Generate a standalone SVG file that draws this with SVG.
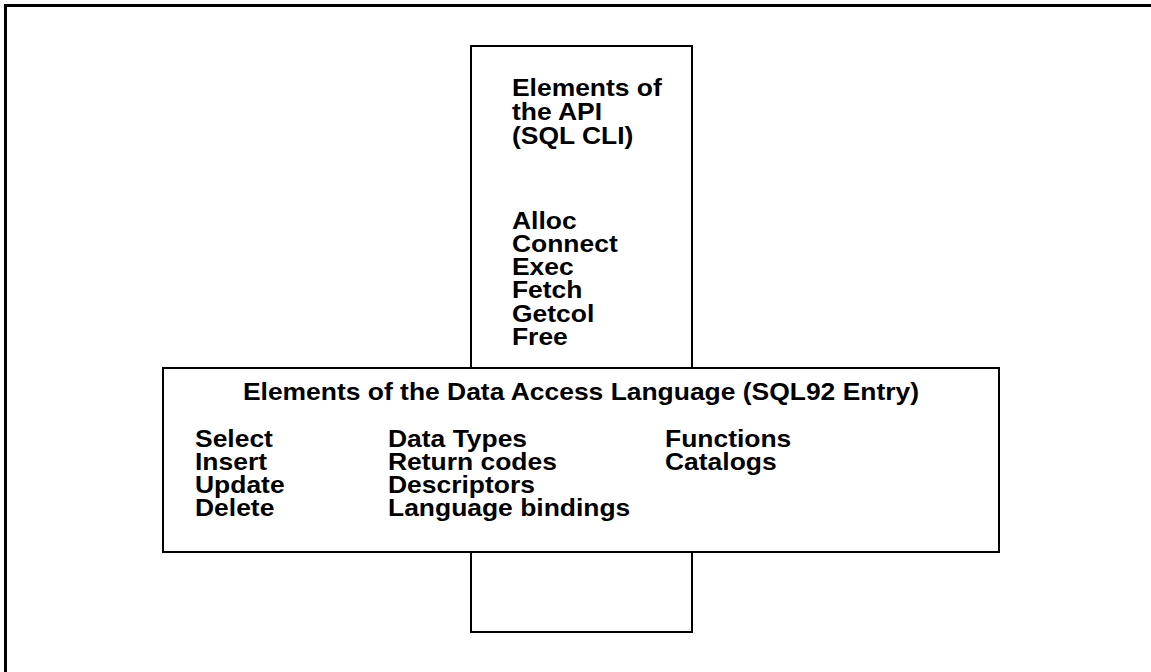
<svg xmlns="http://www.w3.org/2000/svg" width="1151" height="672" viewBox="0 0 1151 672">
<style>
.frame{fill:none;stroke:#000;stroke-width:3}
.box{fill:#fff;stroke:#000;stroke-width:2}
text{font-family:"Liberation Sans",Arial,sans-serif;font-weight:bold;font-size:23px;fill:#000}
</style>
<rect width="1151" height="672" fill="#fff"/>
<rect class="frame" x="5.5" y="5.5" width="1160" height="680"/>
<g id="api">
<rect class="box" x="471" y="46" width="221" height="586"/>
<g transform="scale(1.15,1)">
<text x="445.2" y="96">Elements of</text>
<text x="445.2" y="120">the API</text>
<text x="445.2" y="144">(SQL CLI)</text>
<text x="445.2" y="229">Alloc</text>
<text x="445.2" y="252">Connect</text>
<text x="445.2" y="275">Exec</text>
<text x="445.2" y="298">Fetch</text>
<text x="445.2" y="322">Getcol</text>
<text x="445.2" y="345">Free</text>
</g>
</g>
<g id="dal">
<rect class="box" x="163" y="368" width="836" height="184"/>
<g transform="scale(1.15,1)">
<text x="505.2" y="400" text-anchor="middle">Elements of the Data Access Language (SQL92 Entry)</text>
<text x="169.6" y="447">Select</text>
<text x="169.6" y="470">Insert</text>
<text x="169.6" y="493">Update</text>
<text x="169.6" y="516">Delete</text>
<text x="337.4" y="447">Data Types</text>
<text x="337.4" y="470">Return codes</text>
<text x="337.4" y="493">Descriptors</text>
<text x="337.4" y="516">Language bindings</text>
<text x="578.3" y="447">Functions</text>
<text x="578.3" y="470">Catalogs</text>
</g>
</g>
<g id="connectors"></g>
</svg>
